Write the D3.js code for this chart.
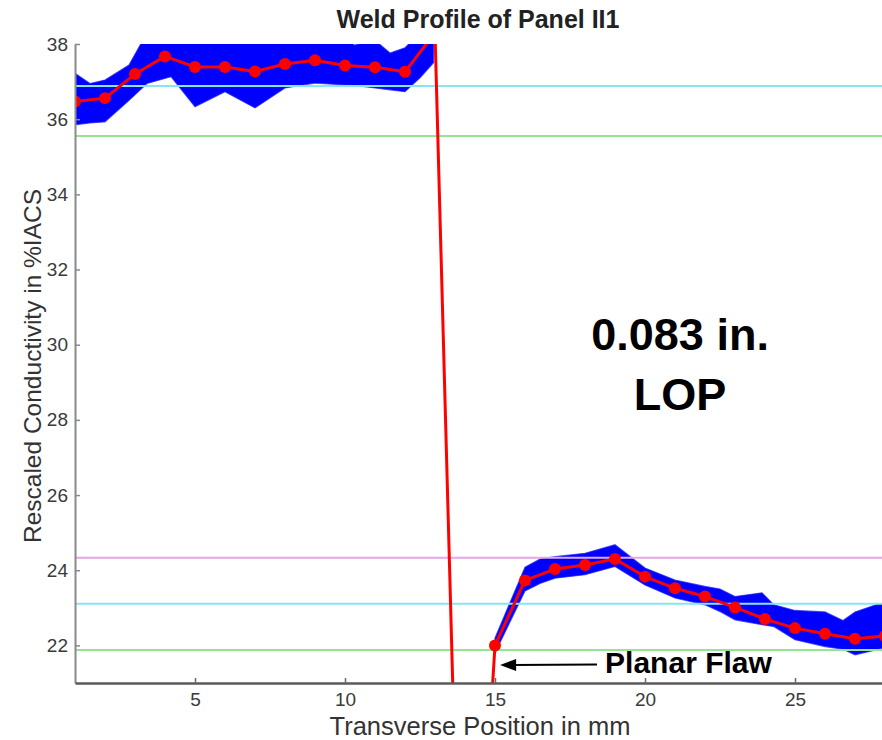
<!DOCTYPE html>
<html><head><meta charset="utf-8">
<script src="https://cdn.jsdelivr.net/npm/d3@7"></script>
<style>body{margin:0;background:#fff}svg{display:block}</style>
</head><body><svg id="c" width="882" height="740"></svg>
<script>
// ---- data ----
const meanX = [1,2,3,4,5,6,7,8,9,10,11,12,13,14,15,16,17,18,19,20,21,22,23,24,25,26,27,28];
const meanY = [36.47,36.56,37.20,37.67,37.39,37.39,37.27,37.47,37.57,37.43,37.38,37.26,38.3,9.0,
               22.0,23.73,24.03,24.14,24.30,23.83,23.52,23.30,23.01,22.70,22.46,22.31,22.18,22.25];

// envelope of the blue scan traces, left part
const bandLeftX  = [1,1.5,2,2.8,3.4,4.2,5,6,7,8,9,10,10.3,11,11.5,12,12.5,12.95];
const bandLeftLo = [35.85,35.9,35.93,36.5,36.95,37.13,36.33,36.73,36.30,36.83,36.96,36.91,36.9,36.83,36.78,36.73,37.1,37.5];
const bandLeftHi = [37.22,36.95,37.04,37.44,38.3,38.3,38.3,38.3,38.3,38.3,38.3,38.3,37.97,38.1,37.76,37.9,38.3,38.3];
// envelope of the blue scan traces, right part
const bandRightX  = [15,16,16.5,17,18,19,20,21,22,22.5,23,23.9,24.3,25,26,26.6,27,27.7,28];
const bandRightLo = [21.8,23.45,23.65,23.79,23.88,24.10,23.61,23.26,23.08,22.9,22.68,22.55,22.5,22.15,21.97,21.9,21.75,21.88,21.95];
const bandRightHi = [22.2,24.08,24.3,24.36,24.45,24.68,24.06,23.74,23.57,23.5,23.30,23.40,23.08,22.93,22.89,22.66,22.89,23.08,23.13];

const refLevels = [36.88, 35.55, 24.33, 23.11, 21.88];
const refKinds  = ["cyan","green","magenta","cyan","green"];
const xTicks = [5,10,15,20,25];
const yTicks = [22,24,26,28,30,32,34,36,38];

const titleText = "Weld Profile of Panel II1";
const xLabel = "Transverse Position in mm";
const yLabel = "Rescaled Conductivity in %IACS";
const noteLines = ["0.083 in.", "LOP"];
const flawLabel = "Planar Flaw";

// ---- drawing ----
const svg = d3.select("#c");
const x = d3.scaleLinear().domain([1,28]).range([75,885]);
const y = d3.scaleLinear().domain([21,38]).range([683,44]);
const refColor = {cyan:"#86e6f0", green:"#95e495", magenta:"#e4a6e4"};
const FONT = "Liberation Sans, Arial, sans-serif";

svg.append("defs").append("clipPath").attr("id","plot")
  .append("rect").attr("x",x(1)).attr("y",y(38)).attr("width",x(28)-x(1)).attr("height",y(21)-y(38));

const g = svg.append("g").attr("clip-path","url(#plot)");

function band(xs, lo, hi){
  const pts = xs.map((d,i)=>({x:d, lo:lo[i], hi:hi[i]}));
  const area = d3.area().x(d=>x(d.x)).y0(d=>y(d.lo)).y1(d=>y(d.hi));
  g.append("path").datum(pts).attr("d",area)
    .attr("fill","#0000ff").attr("stroke","#1a1aff").attr("stroke-width",1.2).attr("stroke-opacity",0.7);
}
band(bandLeftX, bandLeftLo, bandLeftHi);
band(bandRightX, bandRightLo, bandRightHi);

g.selectAll("line.ref").data(refLevels).join("line").attr("class","ref")
  .attr("x1",x(1)).attr("x2",882).attr("y1",d=>y(d)).attr("y2",d=>y(d))
  .attr("stroke",(d,i)=>refColor[refKinds[i]]).attr("stroke-width",2);

const pts = meanX.map((d,i)=>({x:d, v:meanY[i]}));
g.append("path").datum(pts)
  .attr("d", d3.line().x(d=>x(d.x)).y(d=>y(d.v)))
  .attr("fill","none").attr("stroke","#ff0000").attr("stroke-width",3).attr("stroke-linejoin","round");
g.selectAll("circle.m").data(pts).join("circle").attr("class","m")
  .attr("cx",d=>x(d.x)).attr("cy",d=>y(d.v)).attr("r",6).attr("fill","#ff0000");

// axes
const yAxis = d3.axisLeft(y).tickValues(yTicks).tickSizeInner(-5).tickSizeOuter(0).tickPadding(7);
const ya = svg.append("g").attr("transform",`translate(${x(1)},0)`).call(yAxis);
ya.select(".domain").attr("stroke","#8a8a8a").attr("stroke-width",2);
ya.selectAll(".tick line").attr("stroke","#8a8a8a").attr("stroke-width",1.5);
ya.selectAll("text").attr("font-family",FONT).attr("font-size",19).attr("fill","#3a3a3a");

const xAxis = d3.axisBottom(x).tickValues(xTicks).tickSizeInner(-5).tickSizeOuter(0).tickPadding(10);
const xa = svg.append("g").attr("transform",`translate(0,${y(21)})`).call(xAxis);
xa.select(".domain").attr("stroke","#5a5a5a").attr("stroke-width",2.5);
xa.selectAll(".tick line").attr("stroke","#6a6a6a").attr("stroke-width",1.5);
xa.selectAll("text").attr("font-family",FONT).attr("font-size",19).attr("fill","#3a3a3a");

// titles
svg.append("text").attr("x",478).attr("y",28).attr("text-anchor","middle")
  .attr("font-family",FONT).attr("font-weight","bold").attr("font-size",25)
  .attr("fill","#222").text(titleText);
svg.append("text").attr("x",480).attr("y",735).attr("text-anchor","middle")
  .attr("font-family",FONT).attr("font-size",25.5)
  .attr("fill","#333").text(xLabel);
svg.append("text").attr("transform","translate(41,366) rotate(-90)").attr("text-anchor","middle")
  .attr("font-family",FONT).attr("font-size",24.5)
  .attr("fill","#333").text(yLabel);

// annotations
const note = svg.append("text").attr("text-anchor","middle")
  .attr("font-family",FONT).attr("font-weight","bold").attr("font-size",45).attr("fill","#000");
note.append("tspan").attr("x",x(21.17)).attr("y",y(29.86)).text(noteLines[0]);
note.append("tspan").attr("x",x(21.17)).attr("y",y(28.27)).text(noteLines[1]);

const tipX = x(15.17), tipY = y(21.48), tailX = x(18.4);
svg.append("line").attr("x1",tailX).attr("y1",tipY-0.5).attr("x2",tipX+12).attr("y2",tipY)
  .attr("stroke","#000").attr("stroke-width",2);
svg.append("path").attr("d",`M${tipX},${tipY} L${tipX+16},${tipY-6} L${tipX+16},${tipY+6} Z`).attr("fill","#000");
svg.append("text").attr("x",x(18.67)).attr("y",y(21.27))
  .attr("font-family",FONT).attr("font-weight","bold").attr("font-size",30)
  .attr("fill","#000").text(flawLabel);
</script></body></html>
